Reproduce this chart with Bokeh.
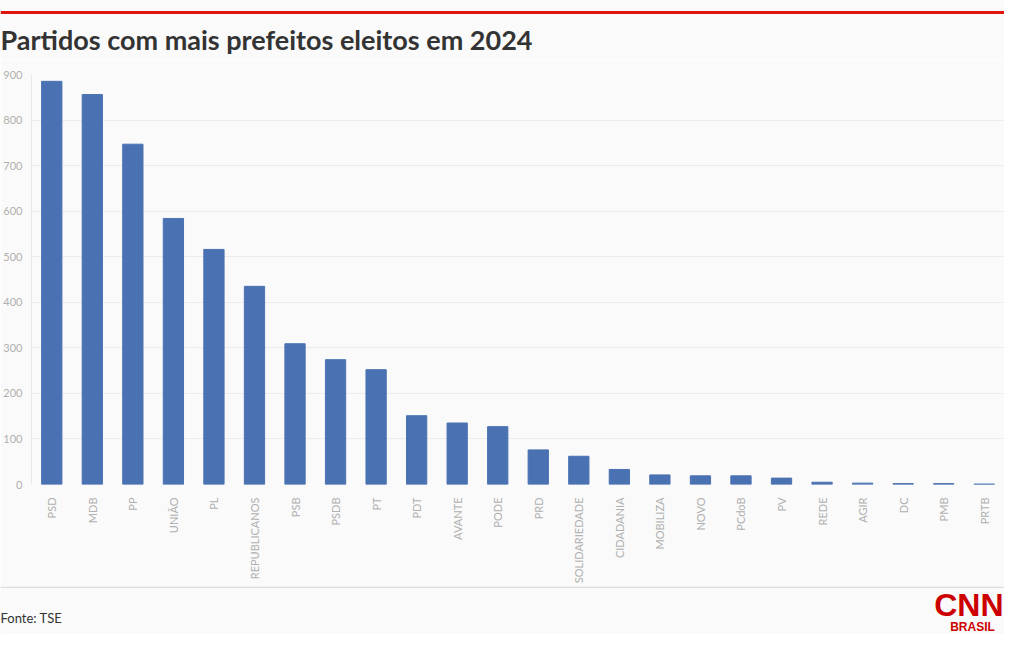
from math import pi
from bokeh.plotting import figure
from bokeh.layouts import column
from bokeh.models import Range1d, FactorRange, FixedTicker
from bokeh.core.properties import value
from bokeh.embed import file_html
from bokeh.resources import INLINE

partidos = ["PSD", "MDB", "PP", "UNIÃO", "PL", "REPUBLICANOS", "PSB", "PSDB", "PT",
            "PDT", "AVANTE", "PODE", "PRD", "SOLIDARIEDADE", "CIDADANIA", "MOBILIZA",
            "NOVO", "PCdoB", "PV", "REDE", "AGIR", "DC", "PMB", "PRTB"]
prefeitos = [885, 856, 747, 584, 516, 435, 309, 274, 252,
             151, 135, 127, 76, 62, 33, 21,
             19, 19, 14, 5, 3, 2, 2, 1]
y_ticks = [0, 100, 200, 300, 400, 500, 600, 700, 800, 900]

titulo = "Partidos com mais prefeitos eleitos em 2024"
fonte = "Fonte: TSE"

W = 1004
BG = "#fafafa"
H_TOP, H_CHART, H_BOT = 60, 526, 48


def deco_fig(h):
    f = figure(width=W, height=h, x_range=Range1d(0, W), y_range=Range1d(h, 0),
               output_backend="svg", toolbar_location=None,
               x_axis_type=None, y_axis_type=None, min_border=0,
               min_border_left=0, min_border_right=0, min_border_top=0, min_border_bottom=0,
               frame_align=False,
               background_fill_color=BG, border_fill_color=BG, outline_line_color=None)
    f.xgrid.grid_line_color = None
    f.ygrid.grid_line_color = None
    return f


# ---- header ----
top = deco_fig(H_TOP)
top.quad(left=0, right=W, top=10.5, bottom=13.5, fill_color="#e0150f", line_color=None)
top.text(x=0, y=39, text=[titulo], text_font=value("Lato"), text_font_style="bold",
         text_font_size="27px", text_color="#333333", text_baseline="middle",
         text_align="left")

# ---- chart ----
p = figure(width=W, height=H_CHART, x_range=FactorRange(*partidos), y_range=Range1d(0, 900),
           output_backend="svg", toolbar_location=None, frame_align=False,
           min_border_left=23, min_border_right=0, min_border_top=14,
           min_border_bottom=101, background_fill_color=BG, border_fill_color=BG,
           outline_line_color=None)

p.vbar(x=partidos, top=prefeitos, width=0.5, color="#4a72b2")

p.yaxis.ticker = FixedTicker(ticks=y_ticks)
p.yaxis.major_label_text_font = "Lato"
p.yaxis.major_label_text_font_size = "11px"
p.yaxis.major_label_text_color = "#b0b0b0"
p.yaxis.major_tick_line_color = None
p.yaxis.minor_tick_line_color = None
p.yaxis.major_label_standoff = 3
p.yaxis.axis_line_color = "#e8e8e8"

p.xaxis.major_label_orientation = pi / 2
p.xaxis.major_label_text_font = "Lato"
p.xaxis.major_label_text_font_size = "11px"
p.xaxis.major_label_text_color = "#b0b0b0"
p.xaxis.major_tick_line_color = None
p.xaxis.axis_line_color = None
p.xaxis.major_label_standoff = 7

p.xgrid.grid_line_color = None
p.ygrid.grid_line_color = "#ececec"

# ---- footer ----
bot = deco_fig(H_BOT)
bot.quad(left=0, right=W, top=0, bottom=1.5, fill_color="#dcdcdc", line_color=None)
bot.text(x=0, y=31, text=[fonte], text_font=value("Lato"), text_font_size="13px",
         text_color="#333333", text_baseline="middle", text_align="left")
bot.text(x=1003, y=18, text=["CNN"], text_font=value("Liberation Sans"),
         text_font_style="bold", text_font_size="32px", text_color="#cc0000",
         text_baseline="middle", text_align="right")
bot.text(x=972, y=40, text=["BRASIL"], text_font=value("Liberation Sans"),
         text_font_style="bold", text_font_size="12px", text_color="#cc0000",
         text_baseline="middle", text_align="center")

layout = column(top, p, bot, spacing=0)

open("out.html", "w").write(file_html(layout, INLINE))
